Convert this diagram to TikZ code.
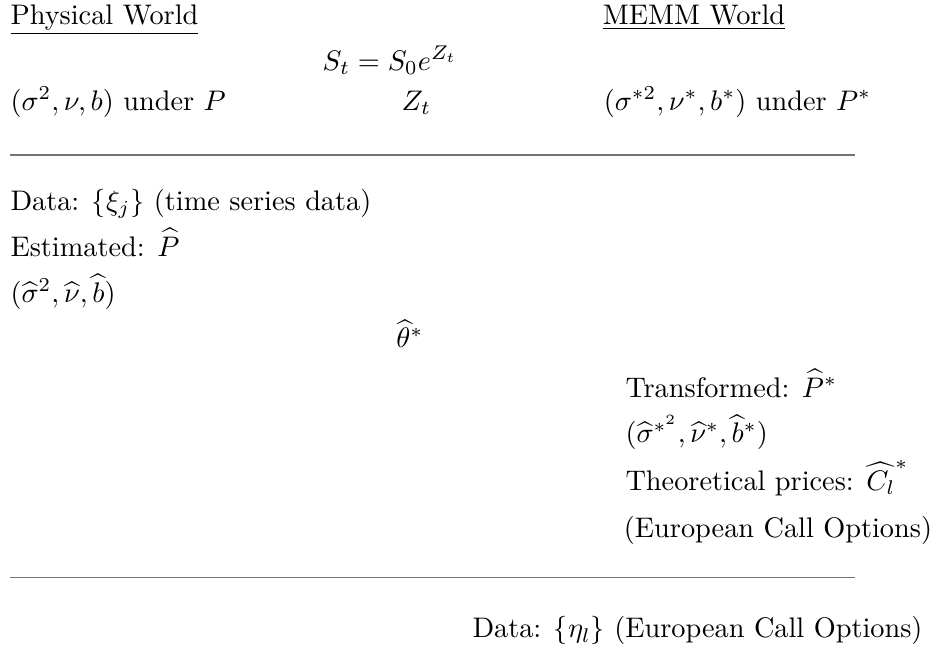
\documentclass[tikz,border=0pt]{standalone}
\usepackage{tikz}
\usetikzlibrary{positioning}

\tikzset{
  txt/.style={anchor=base west, inner sep=0pt},
  ctxt/.style={anchor=base, inner sep=0pt},
  sepline/.style={line width=0.4pt, black!55}
}

\begin{document}
\begin{tikzpicture}
  \useasboundingbox (0,0) rectangle (11.61,-8.02);

  % headings
  \node[txt] (phys) at (0.124,-0.298) {\underline{Physical World}};
  \node[txt] (memm) at (7.48,-0.298) {\underline{MEMM World}};

  \node[txt] (price) at (4.0,-0.87) {$S_t = S_0 e^{Z_t}$};
  \node[txt] (physpar) at (0.124,-1.366) {$(\sigma^2, \nu, b)$ under $P$};
  \node[ctxt] (zt) at (5.17,-1.366) {$Z_t$};
  \node[txt] (memmpar) at (7.49,-1.366) {$(\sigma^{*2}, \nu^*, b^*)$ under $P^*$};

  \coordinate (sepAl) at (0.124,-1.925);
  \coordinate (sepAr) at (10.62,-1.925);
  \draw[sepline] (sepAl) -- (sepAr);

  % estimation side
  \node[txt] (data) at (0.124,-2.608) {Data: $\{\xi_j\}$ (time series data)};
  \node[txt] (est) at (0.124,-3.18) {Estimated: $\widehat{P}$};
  \node[txt] (estpar) at (0.124,-3.75) {$(\widehat{\sigma}^2, \widehat{\nu}, \widehat{b})$};

  \node[ctxt] (theta) at (5.09,-4.32) {$\widehat{\theta}^*$};

  % pricing side
  \node[txt] (trans) at (7.76,-4.93) {Transformed: $\widehat{P}^*$};
  \node[txt] (transpar) at (7.76,-5.50) {$(\widehat{\sigma}^{*^{2}}, \widehat{\nu}^*, \widehat{b}^*)$};
  \node[txt] (theo) at (7.76,-6.09) {Theoretical prices: $\widehat{C_l}^*$};
  \node[txt] (euro) at (7.74,-6.68) {(European Call Options)};

  \coordinate (sepBl) at (0.124,-7.17);
  \coordinate (sepBr) at (10.62,-7.17);
  \draw[sepline] (sepBl) -- (sepBr);

  \node[txt] (obs) at (5.86,-7.92) {Data: $\{\eta_l\}$ (European Call Options)};
\end{tikzpicture}
\end{document}
